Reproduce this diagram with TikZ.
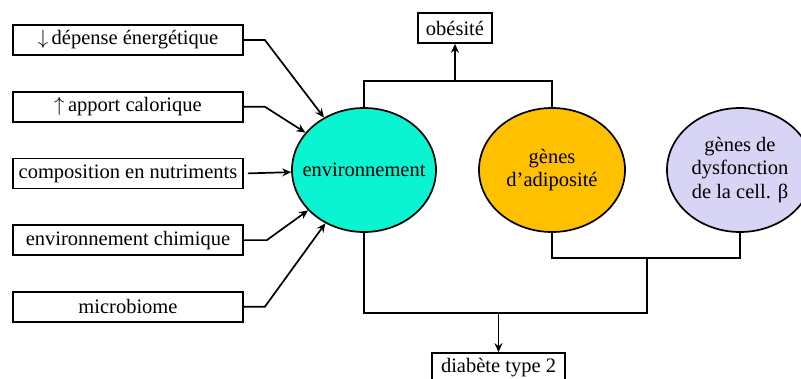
\documentclass[tikz,border=0pt]{standalone}
\usepackage{fontspec}
\setmainfont{Liberation Serif}
\usepackage{tikz}
\usetikzlibrary{positioning,arrows.meta,shapes}

\definecolor{turquoise}{RGB}{10,244,210}
\definecolor{orangeor}{RGB}{255,192,0}
\definecolor{lavande}{RGB}{216,212,246}

\begin{document}
\begin{tikzpicture}
            [x=1pt, y=-1pt, >={Stealth[length=9pt, width=8pt, inset=3pt]}, line width=1.7pt,
            font=\fontsize{20.5}{23.5}\selectfont,
            % facteurs de gauche
            facteur/.style={draw=black, minimum width=230pt, minimum height=30pt,
            inner xsep=2pt, inner ysep=0pt},
            issue/.style={draw=black, minimum height=30pt, inner xsep=8pt, inner ysep=0pt},
            rond/.style={ellipse, draw=black, minimum width=146pt, minimum height=124pt,
            inner xsep=-20pt, inner ysep=0pt, align=center}]
            \path [use as bounding box, clip] (0,0) rectangle (801,378);
            \node [facteur] (depense) at (128,40) {$\downarrow$\,dépense énergétique};
            \node [facteur, below=35pt of depense] (apport) {$\uparrow$\,apport calorique};
            \node [facteur, below=35pt of apport] (compo) {composition en nutriments};
            \node [facteur, below=35pt of compo] (chimique) {environnement chimique};
            \node [facteur, below=35pt of chimique] (microbiome) {microbiome};

            \node [rond, fill=turquoise, minimum width=144pt] (env) at (364,170) {environnement};
            \node [rond, fill=orangeor] (adipo) at (552,170) {gènes\\d’adiposité};
            \node [rond, fill=lavande] (beta) at (740,170) {gènes de\\dysfonction\\de la cell. β};

            \node [issue] (obesite) at (455,28) {obésité};
            \node [issue, inner xsep=9pt] (diabete) at (498.5,368) {diabète type 2};

            \draw [->] (depense.east) -- ++(21,0) -- (env);
            \draw [->] (apport.east) -- ++(21,0) -- (env);
            \draw [->] ([xshift=4pt]compo.east) -- (env);
            \draw [->] (chimique.east) -- ++(23,0) -- (env);
            \draw [->] (microbiome.east) -- ++(21,0) -- (env);

            % vers l'obesite
            \coordinate (jonction) at (455,81);
            \draw (env.north) |- (jonction) -| (adipo.north);
            \draw [->] (jonction) -- (obesite.south);

            % vers le diabete
            \coordinate (genes) at (647,258);
            \coordinate (bas) at (498.5,313);
            \draw (adipo.south) |- (genes) -| (beta.south);
            \draw (env.south) |- (genes |- bas) -- (genes);
            \draw [->] (bas) -- (diabete.north);
\end{tikzpicture}
\end{document}
